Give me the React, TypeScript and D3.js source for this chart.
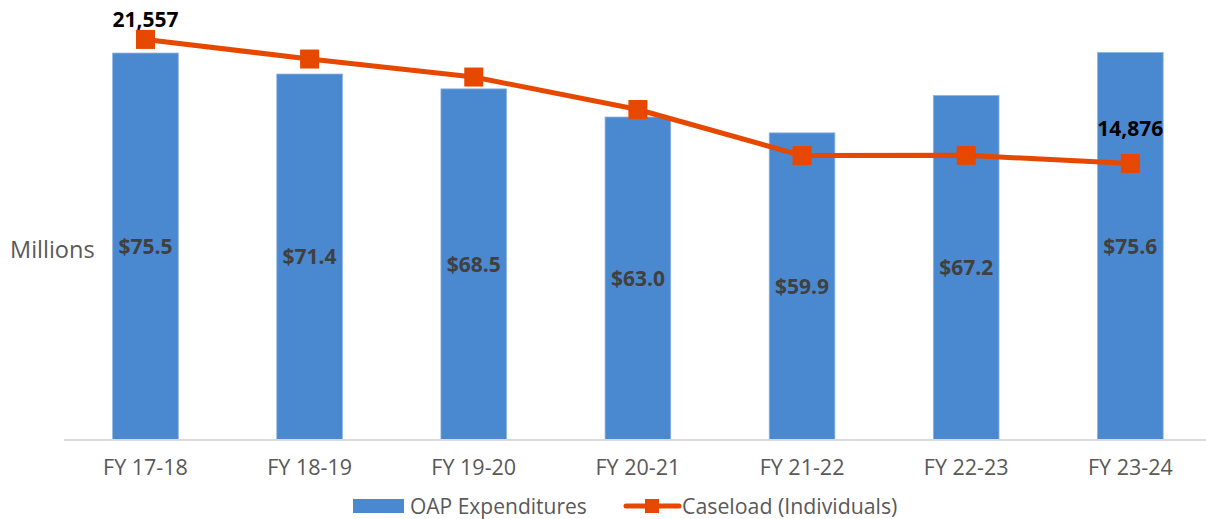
import React, { useRef, useEffect } from "react";
import * as d3 from "d3";

const FISCAL_YEARS = [
  "FY 17-18",
  "FY 18-19",
  "FY 19-20",
  "FY 20-21",
  "FY 21-22",
  "FY 22-23",
  "FY 23-24",
];
const EXPENDITURES = [75.5, 71.4, 68.5, 63.0, 59.9, 67.2, 75.6];
const CASELOAD = [21557, 20500, 19530, 17780, 15300, 15310, 14876];
const LABELED_POINTS = [0, 6];

const BAR_COLOR = "#4a89d0";
const LINE_COLOR = "#e64800";
const FONT = "'Open Sans', sans-serif";

export default function App() {
  const svgRef = useRef<SVGSVGElement>(null);
  const width = 1206;
  const height = 519;

  useEffect(() => {
    if (!svgRef.current) return;
    const svg = d3.select(svgRef.current);
    svg.selectAll("*").remove();

    const left = 63.4;
    const right = 1212.4;
    const baseY = 439.5;

    const x = d3
      .scaleBand<string>()
      .domain(FISCAL_YEARS)
      .range([left, right])
      .paddingInner(0.6)
      .paddingOuter(0.3);
    const y = d3.scaleLinear().domain([0, 80]).range([baseY, 30]);
    const y2 = d3.scaleLinear().domain([0, 22000]).range([baseY, baseY - 408.3]);

    // bars
    svg
      .append("g")
      .selectAll("rect")
      .data(EXPENDITURES)
      .join("rect")
      .attr("x", (_d, i) => x(FISCAL_YEARS[i])!)
      .attr("y", (d) => y(d))
      .attr("width", x.bandwidth())
      .attr("height", (d) => baseY - y(d))
      .attr("fill", BAR_COLOR)
      .attr("stroke", "#8db3e2")
      .attr("stroke-width", 0.8);

    // bar labels (middle of the bar)
    svg
      .append("g")
      .selectAll("text")
      .data(EXPENDITURES)
      .join("text")
      .attr("x", (_d, i) => x(FISCAL_YEARS[i])! + x.bandwidth() / 2)
      .attr("y", (d) => (y(d) + baseY) / 2)
      .attr("dy", "0.36em")
      .attr("text-anchor", "middle")
      .style("font-family", FONT)
      .style("font-weight", "700")
      .style("font-size", "21px")
      .style("fill", "#404040")
      .text((d) => `$${d.toFixed(1)}`);

    // x axis
    const xAxis = svg
      .append("g")
      .attr("transform", `translate(0,${baseY})`)
      .call(d3.axisBottom(x).tickSize(0).tickPadding(20));
    xAxis.select(".domain").attr("stroke", "#d9d9d9").attr("stroke-width", 2);
    xAxis
      .selectAll("text")
      .style("font-family", FONT)
      .style("font-size", "21.5px")
      .style("fill", "#595959");

    // y axis title
    svg
      .append("text")
      .attr("x", 10)
      .attr("y", 250)
      .attr("dy", "0.36em")
      .style("font-family", FONT)
      .style("font-size", "23.5px")
      .style("fill", "#595959")
      .text("Millions");

    // caseload line
    const cx = (i: number) => x(FISCAL_YEARS[i])! + x.bandwidth() / 2;
    const line = d3
      .line<number>()
      .x((_d, i) => cx(i))
      .y((d) => y2(d));
    svg
      .append("path")
      .datum(CASELOAD)
      .attr("d", line)
      .attr("fill", "none")
      .attr("stroke", LINE_COLOR)
      .attr("stroke-width", 5)
      .attr("stroke-linejoin", "round");

    const m = 19;
    svg
      .append("g")
      .selectAll("rect")
      .data(CASELOAD)
      .join("rect")
      .attr("x", (_d, i) => cx(i) - m / 2)
      .attr("y", (d) => y2(d) - m / 2)
      .attr("width", m)
      .attr("height", m)
      .attr("fill", LINE_COLOR);

    // data labels, pushed inside the chart area when they'd overflow the top
    svg
      .append("g")
      .selectAll("text")
      .data(LABELED_POINTS)
      .join("text")
      .attr("x", (i) => cx(i))
      .attr("y", (i) => Math.max(y2(CASELOAD[i]) - 35, 19))
      .attr("dy", "0.36em")
      .attr("text-anchor", "middle")
      .style("font-family", FONT)
      .style("font-weight", "700")
      .style("font-size", "21px")
      .style("fill", "#000")
      .text((i) => d3.format(",")(CASELOAD[i]));

    // legend
    const legend = svg.append("g").attr("transform", "translate(0,506)");
    legend
      .append("rect")
      .attr("x", 353)
      .attr("y", -7)
      .attr("width", 51)
      .attr("height", 14)
      .attr("fill", BAR_COLOR);
    legend
      .append("text")
      .attr("x", 410)
      .attr("dy", "0.36em")
      .style("font-family", FONT)
      .style("font-size", "21px")
      .style("fill", "#595959")
      .text("OAP Expenditures");
    legend
      .append("line")
      .attr("x1", 626)
      .attr("x2", 679)
      .attr("stroke", LINE_COLOR)
      .attr("stroke-width", 5)
      .attr("stroke-linecap", "round");
    legend
      .append("rect")
      .attr("x", 645)
      .attr("y", -7)
      .attr("width", 14)
      .attr("height", 14)
      .attr("fill", LINE_COLOR);
    legend
      .append("text")
      .attr("x", 682)
      .attr("dy", "0.36em")
      .style("font-family", FONT)
      .style("font-size", "21.3px")
      .style("fill", "#595959")
      .text("Caseload (Individuals)");
  }, []);

  return (
    <svg
      ref={svgRef}
      width={width}
      height={height}
      viewBox={`0 0 ${width} ${height}`}
      style={{ position: "absolute", left: 0, top: 0, background: "#fff" }}
    />
  );
}
